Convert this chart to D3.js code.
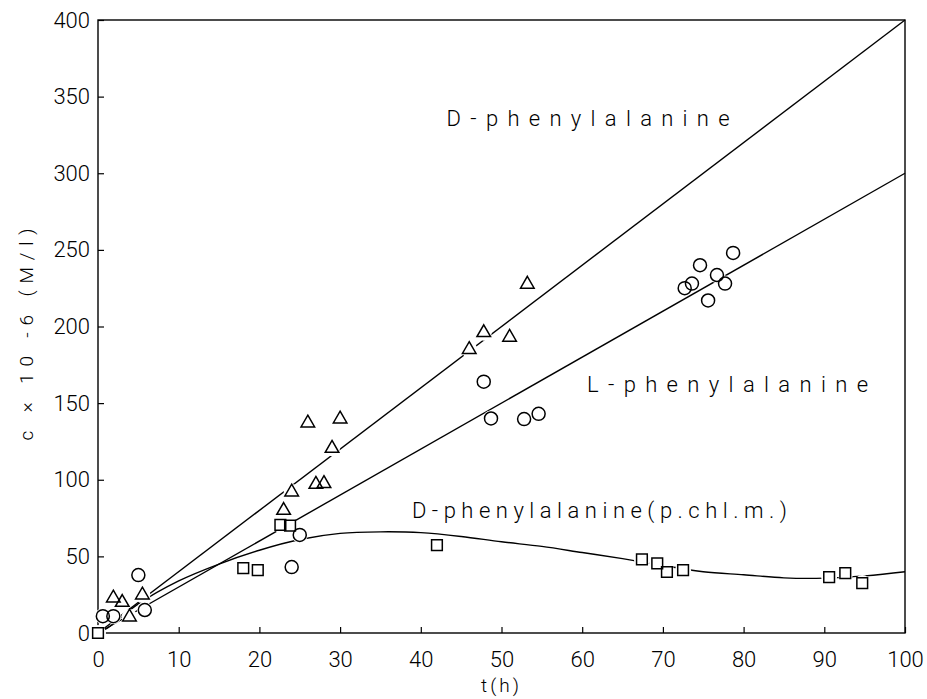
<!DOCTYPE html>
<html>
<head>
<meta charset="utf-8">
<script src="https://cdn.jsdelivr.net/npm/d3@7"></script>
<style>
  body { margin: 0; background: #fff; }
  svg text { fill: #000; }
</style>
</head>
<body>
<svg id="chart"></svg>
<script>
// D-phenylalanine (triangles)
const dTime = [1.9, 3, 3.9, 5.5, 23, 24, 26, 27, 28, 29, 30, 46, 47.8, 51, 53.2];
const dConc = [22.8, 20, 10.4, 24.8, 80, 92, 137, 97, 97.5, 120.5, 139.6, 185, 196, 193, 227.6];

// L-phenylalanine (circles)
const lTime = [0.6, 1.9, 5, 5.8, 24, 25, 47.8, 48.7, 52.8, 54.6, 72.7, 73.6, 74.6, 75.6, 76.7, 77.7, 78.7];
const lConc = [11, 11, 37.8, 15, 43, 64, 164, 140, 139.6, 143, 225, 228, 240, 217, 233.6, 228, 248];

// D-phenylalanine (p.chl.m.) (squares)
const pTime = [0, 18, 19.8, 22.6, 23.8, 42, 67.4, 69.3, 70.5, 72.5, 90.6, 92.6, 94.7];
const pConc = [0, 42.4, 41, 70.5, 70, 57.4, 48, 45.5, 39.8, 41, 36.5, 39, 32.6];

// fitted lines
const fitTime = [0, 100];
const dFit = [0, 400];
const lFit = [0, 300];

// smooth curve for p.chl.m.
const curveTime = [0, 1.2, 5, 10, 15, 20, 25, 30, 35, 40, 45, 50, 55, 60, 65, 70, 75, 80, 85, 90, 95, 100];
const curveConc = [0, 3.3, 19, 34, 45, 54, 61, 65, 66, 65.5, 63, 59.5, 56.5, 52.5, 48.5, 44, 40, 38, 36, 35.8, 37.3, 40];

const xTicks = [0, 10, 20, 30, 40, 50, 60, 70, 80, 90, 100];
const yTicks = [0, 50, 100, 150, 200, 250, 300, 350, 400];

const labelText = ["D-phenylalanine", "L-phenylalanine", "D-phenylalanine(p.chl.m.)"];
const labelTime = [43.2, 60.6, 38.9];
const labelConc = [330.8, 157.3, 75];
const labelLen = [283, 281, 375];

var margin = {top: 20, right: 22, bottom: 66, left: 98},
  width = 927 - margin.left - margin.right,
  height = 699 - margin.top - margin.bottom;

var svg = d3.select("#chart")
  .attr("width", 927)
  .attr("height", 699);

var g = svg.append("g")
  .attr("transform", "translate(" + margin.left + "," + margin.top + ")");

var xScale = d3.scaleLinear().domain([0, 100]).range([0, width]);
var yScale = d3.scaleLinear().domain([0, 400]).range([height, 0]);

const labelFont = "Roboto, 'Liberation Sans', sans-serif";

// axes
var xAxis = g.append("g")
  .attr("transform", "translate(0," + height + ")")
  .call(d3.axisBottom(xScale).tickValues(xTicks).tickSizeInner(-6).tickSizeOuter(0).tickPadding(18));
var yAxis = g.append("g")
  .call(d3.axisLeft(yScale).tickValues(yTicks).tickSizeInner(-6).tickSizeOuter(0).tickPadding(8));

[xAxis, yAxis].forEach(function(a) {
  a.select(".domain").remove();
  a.selectAll("line").attr("stroke", "#000").attr("stroke-width", 1.2);
  a.selectAll("text")
    .style("font-family", labelFont)
    .style("font-size", "22px")
    .style("font-weight", "300");
});

// frame
g.append("rect")
  .attr("x", 0).attr("y", 0)
  .attr("width", width).attr("height", height)
  .attr("fill", "none")
  .attr("stroke", "#000")
  .attr("stroke-width", 1.4);

// axis titles
svg.append("text")
  .attr("x", margin.left + xScale(50))
  .attr("y", 692)
  .attr("text-anchor", "middle")
  .style("font-family", labelFont)
  .style("font-weight", "300")
  .style("font-size", "19px")
  .style("letter-spacing", "3px")
  .text("t(h)");

svg.append("text")
  .attr("transform", "translate(26," + (margin.top + yScale(200) + 8) + ") rotate(-90)")
  .attr("text-anchor", "middle")
  .attr("dy", "0.35em")
  .attr("textLength", 212)
  .attr("lengthAdjust", "spacing")
  .style("font-family", labelFont)
  .style("font-weight", "300")
  .style("font-size", "19px")
  .text("c × 10 -6 (M/l)");

// lines
var line = d3.line()
  .x(function(d) { return xScale(d[0]); })
  .y(function(d) { return yScale(d[1]); });

g.append("path")
  .datum(d3.zip(fitTime, dFit))
  .attr("d", line)
  .attr("fill", "none").attr("stroke", "#000").attr("stroke-width", 1.4);

g.append("path")
  .datum(d3.zip(fitTime, lFit))
  .attr("d", line)
  .attr("fill", "none").attr("stroke", "#000").attr("stroke-width", 1.4);

g.append("path")
  .datum(d3.zip(curveTime, curveConc))
  .attr("d", line.curve(d3.curveCatmullRom))
  .attr("fill", "none").attr("stroke", "#000").attr("stroke-width", 1.4);

// markers
var series = [
  {pts: d3.zip(dTime, dConc), type: d3.symbolTriangle, size: 80},
  {pts: d3.zip(lTime, lConc), type: d3.symbolCircle, size: 133},
  {pts: d3.zip(pTime, pConc), type: d3.symbolSquare, size: 115}
];

// white backing so lines break around markers like the plotter output
series.forEach(function(s) {
  g.selectAll(null).data(s.pts)
    .enter().append("circle")
    .attr("cx", function(d) { return xScale(d[0]); })
    .attr("cy", function(d) { return yScale(d[1]); })
    .attr("r", 8)
    .attr("fill", "#fff");
});

series.forEach(function(s) {
  g.selectAll(null).data(s.pts)
    .enter().append("path")
    .attr("transform", function(d) { return "translate(" + xScale(d[0]) + "," + yScale(d[1]) + ")"; })
    .attr("d", d3.symbol().type(s.type).size(s.size))
    .attr("fill", "none")
    .attr("stroke", "#000")
    .attr("stroke-width", 1.5);
});

// curve labels
labelText.forEach(function(t, i) {
  g.append("text")
    .attr("x", xScale(labelTime[i]))
    .attr("y", yScale(labelConc[i]))
    .attr("textLength", labelLen[i])
    .attr("lengthAdjust", "spacing")
    .style("font-family", labelFont)
    .style("font-weight", "300")
    .style("font-size", "22px")
    .text(t);
});
</script>
</body>
</html>
